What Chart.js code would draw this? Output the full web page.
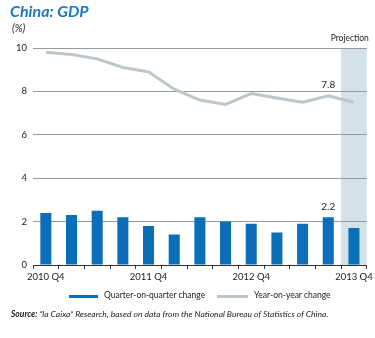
<!DOCTYPE html>
<html>
<head>
<meta charset="utf-8">
<script src="https://cdn.jsdelivr.net/npm/chart.js@4.4.0/dist/chart.umd.min.js"></script>
<style>
  html, body { margin: 0; padding: 0; background: #fff; }
  #wrap { position: relative; width: 375px; height: 338px; font-family: Lato, "Open Sans", sans-serif; color: #222; }
  #c { position: absolute; left: 0; top: 0; }
  .t { position: absolute; white-space: nowrap; }
  #title { left: 10px; top: 1px; font-size: 16px; font-weight: 700; font-style: italic; color: #1b78bf; }
  #unit { left: 12px; top: 22px; font-size: 10.5px; font-style: italic; }
  .leg { top: 290px; font-size: 8.5px; }
  .sw { position: absolute; top: 295px; height: 3px; }
  #src { left: 11px; top: 309px; font-size: 8.5px; font-style: italic; }
</style>
</head>
<body>
<div id="wrap">
  <canvas id="c" width="375" height="338"></canvas>
  <div class="t" id="title">China: GDP</div>
  <div class="t" id="unit">(%)</div>
  <div class="sw" style="left:69px;width:29px;background:#0a6fb8"></div>
  <div class="t leg" style="left:104px">Quarter-on-quarter change</div>
  <div class="sw" style="left:217px;width:31px;background:#bcc6cb"></div>
  <div class="t leg" style="left:254px">Year-on-year change</div>
  <div class="t" id="src"><b>Source:</b> “la Caixa” Research, based on data from the National Bureau of Statistics of China.</div>
</div>
<script>
/* ── Data ─────────────────────────────────────────────── */
const quarters = ['2010 Q4','2011 Q1','2011 Q2','2011 Q3','2011 Q4','2012 Q1','2012 Q2',
                  '2012 Q3','2012 Q4','2013 Q1','2013 Q2','2013 Q3','2013 Q4'];
const qoq = [2.4, 2.3, 2.5, 2.2, 1.8, 1.4, 2.2, 2.0, 1.9, 1.5, 1.9, 2.2, 1.7];
const yoy = [9.8, 9.7, 9.5, 9.1, 8.9, 8.1, 7.6, 7.4, 7.9, 7.7, 7.5, 7.8, 7.5];
const yTicks = [0, 2, 4, 6, 8, 10];
const shownLabels = ['2010 Q4', '2011 Q4', '2012 Q4', '2013 Q4'];
const projectionIndex = 12;
const labelIndex = 11;

const FONT = 'Lato, "Open Sans", sans-serif';

/* ── Projection band + value labels ───────────────────── */
const extras = {
    id: 'extras',
    beforeDraw(chart) {
        const { ctx, chartArea, scales } = chart;
        const x = scales.x;
        const step = x.getPixelForValue(1) - x.getPixelForValue(0);
        const cx = x.getPixelForValue(projectionIndex);
        ctx.save();
        ctx.fillStyle = '#d3e1e8';
        ctx.fillRect(cx - step / 2, chartArea.top, chartArea.right - (cx - step / 2), chartArea.bottom - chartArea.top);
        ctx.fillStyle = '#222';
        ctx.font = '8.5px ' + FONT;
        ctx.textAlign = 'right';
        ctx.textBaseline = 'bottom';
        ctx.fillText('Projection', chartArea.right + 2, chartArea.top - 5);
        ctx.restore();
    },
    afterDatasetsDraw(chart) {
        const { ctx, scales } = chart;
        const px = scales.x.getPixelForValue(labelIndex);
        ctx.save();
        ctx.fillStyle = '#222';
        ctx.font = '10px ' + FONT;
        ctx.textAlign = 'center';
        ctx.textBaseline = 'bottom';
        ctx.fillText(yoy[labelIndex].toFixed(1), px, scales.y.getPixelForValue(yoy[labelIndex]) - 6);
        ctx.fillText(qoq[labelIndex].toFixed(1), px, scales.y.getPixelForValue(qoq[labelIndex]) - 5);
        ctx.restore();
    },
};

new Chart(document.getElementById('c'), {
    type : 'bar',
    data : {
        labels   : quarters,
        datasets : [
            {
                type            : 'line',
                label           : 'Year-on-year change',
                data            : yoy,
                borderColor     : '#bcc6cb',
                borderWidth     : 3,
                pointRadius     : 0,
                tension         : 0,
                order           : 0,
            },
            {
                type               : 'bar',
                label              : 'Quarter-on-quarter change',
                data               : qoq,
                backgroundColor    : '#0a6fb8',
                categoryPercentage : 1,
                barPercentage      : 0.43,
                order              : 1,
            },
        ],
    },
    options : {
        responsive : false,
        animation  : false,
        layout     : { padding: { top: 48, right: 7, left: 0, bottom: 0 } },
        plugins    : { legend: { display: false }, tooltip: { enabled: false } },
        scales : {
            x : {
                offset : true,
                grid   : { offset: true, drawOnChartArea: false, drawTicks: true, tickLength: 4, color: '#333' },
                border : { color: '#333', width: 1 },
                ticks  : {
                    autoSkip    : false,
                    maxRotation : 0,
                    padding     : 2,
                    color       : '#222',
                    font        : { family: FONT, size: 9.5 },
                    callback    : function (v) {
                        const l = this.getLabelForValue(v);
                        return shownLabels.includes(l) ? l : '';
                    },
                },
                afterFit : function (s) { s.height = 73; },
            },
            y : {
                min    : 0,
                max    : 10,
                afterBuildTicks : function (s) { s.ticks = yTicks.map(v => ({ value: v })); },
                grid   : {
                    drawTicks : false,
                    lineWidth : 1,
                    color     : ctx => ctx.tick.value === 0 ? 'rgba(0,0,0,0)' : '#9a9a9a',
                },
                border : { display: false },
                ticks  : { padding: 6, color: '#222', font: { family: FONT, size: 9.5 } },
                afterFit : function (s) { s.width = 33; },
            },
        },
    },
    plugins : [extras],
});
</script>
</body>
</html>
